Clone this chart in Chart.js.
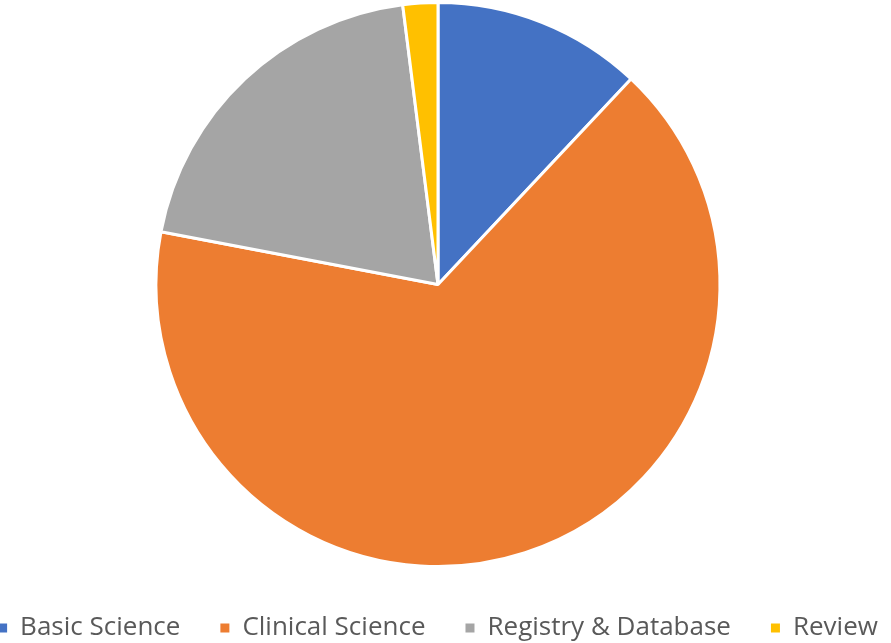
<!DOCTYPE html>
<html>
<head>
<meta charset="utf-8">
<script src="https://cdn.jsdelivr.net/npm/chart.js@4"></script>
<style>
  html, body { margin:0; padding:0; background:#fff; }
  #wrap { width:891px; height:643px; overflow:hidden; position:relative; }
  #pieChart { position:absolute; left:-62px; top:-6px; }
</style>
</head>
<body>
<div id="wrap"><canvas id="pieChart" width="1000" height="665"></canvas></div>
<script>
// Data
const categories = ['Basic Science', 'Clinical Science', 'Registry & Database', 'Review'];
const shares = [12, 66, 20, 2];
const colors = ['#4472C4', '#ED7D31', '#A5A5A5', '#FFC000'];

// Pie
const ctx = document.getElementById('pieChart').getContext('2d');
new Chart(ctx, {
  type: 'pie',
  data: {
    labels: categories,
    datasets: [{
      data: shares,
      backgroundColor: colors,
      borderColor: '#ffffff',
      borderWidth: 3,
      radius: 282
    }]
  },
  options: {
    responsive: false,
    animation: false,
    layout: { padding: { left: 0, right: 0, top: 0, bottom: 8 } },
    plugins: {
      tooltip: { enabled: false },
      legend: {
        position: 'bottom',
        labels: {
          boxWidth: 9,
          boxHeight: 9,
          padding: 40,
          color: '#595959',
          font: { family: 'Open Sans', size: 26 },
          generateLabels: function(chart) {
            return Chart.controllers.pie.overrides.plugins.legend.labels.generateLabels(chart)
              .map(l => Object.assign(l, { lineWidth: 0, strokeStyle: l.fillStyle }));
          }
        }
      }
    }
  }
});
</script>
</body>
</html>
